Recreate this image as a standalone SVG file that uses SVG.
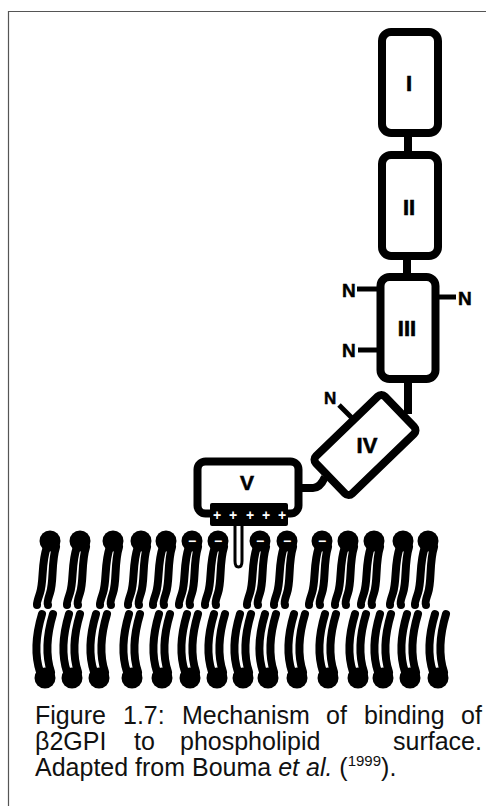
<svg xmlns="http://www.w3.org/2000/svg" xmlns:xlink="http://www.w3.org/1999/xlink" width="486" height="806" viewBox="0 0 486 806">
  <style>
    .dom { fill: #fff; stroke: #000; stroke-width: 8; }
    .lbl { font-family: "Liberation Sans", Arial, sans-serif; font-weight: bold; font-size: 22px; fill: #000; stroke: #000; stroke-width: 0.6; text-anchor: middle; }
    .nlbl { font-family: "Liberation Sans", Arial, sans-serif; font-weight: bold; font-size: 19px; fill: #000; stroke: #000; stroke-width: 0.5; }
    .link { fill: none; stroke: #000; stroke-width: 8; }
    .stub { fill: none; stroke: #000; stroke-width: 5; }
    .tail { fill: none; stroke: #000; stroke-width: 8; stroke-linecap: round; }
    .chg { font-family: "Liberation Sans", Arial, sans-serif; font-weight: bold; font-size: 14px; fill: #fff; text-anchor: middle; }
    .cap { font-family: "Liberation Sans", Arial, sans-serif; font-size: 25px; fill: #111; }
  </style>
  <defs>
    <!-- outer leaflet lipid: head up, two tails hanging down -->
    <g id="lipTop">
      <path class="tail" d="M-3,6 C-9,22 -6,40 -10,52 S-13,62 -13,64"/>
      <path class="tail" d="M6,6 C1,22 4,40 0,52 S-2,62 -2,64"/>
      <circle r="10.5" fill="#000"/>
    </g>
    <!-- inner leaflet lipid: head down, two tails rising -->
    <g id="lipBot">
      <path class="tail" d="M-5,-6 C-11,-24 -9,-44 -3,-64"/>
      <path class="tail" d="M6,-6 C0,-24 2,-44 8,-64"/>
      <circle r="10.5" fill="#000"/>
    </g>
  </defs>

  <rect width="486" height="806" fill="#fff"/>

  <!-- page frame -->
  <path d="M8.5,806 V11.5 H486" fill="none" stroke="#555" stroke-width="1.2"/>

  <!-- lipid bilayer -->
  <g id="membrane">
    <g id="outer-leaflet">
      <use xlink:href="#lipTop" x="50" y="541"/>
      <use xlink:href="#lipTop" x="80" y="541"/>
      <use xlink:href="#lipTop" x="113" y="541"/>
      <use xlink:href="#lipTop" x="141" y="541"/>
      <use xlink:href="#lipTop" x="166" y="541"/>
      <use xlink:href="#lipTop" x="192" y="541"/>
      <use xlink:href="#lipTop" x="218" y="541"/>
      <use xlink:href="#lipTop" x="260" y="541"/>
      <use xlink:href="#lipTop" x="287" y="541"/>
      <use xlink:href="#lipTop" x="322" y="541"/>
      <use xlink:href="#lipTop" x="348" y="541"/>
      <use xlink:href="#lipTop" x="374" y="541"/>
      <use xlink:href="#lipTop" x="403" y="541"/>
      <use xlink:href="#lipTop" x="428" y="541"/>
    </g>
    <g id="inner-leaflet">
      <use xlink:href="#lipBot" x="45" y="678"/>
      <use xlink:href="#lipBot" x="72" y="678"/>
      <use xlink:href="#lipBot" x="99" y="678"/>
      <use xlink:href="#lipBot" x="132" y="678"/>
      <use xlink:href="#lipBot" x="162" y="678"/>
      <use xlink:href="#lipBot" x="190" y="678"/>
      <use xlink:href="#lipBot" x="217" y="678"/>
      <use xlink:href="#lipBot" x="243" y="678"/>
      <use xlink:href="#lipBot" x="268" y="678"/>
      <use xlink:href="#lipBot" x="297" y="678"/>
      <use xlink:href="#lipBot" x="328" y="678"/>
      <use xlink:href="#lipBot" x="358" y="678"/>
      <use xlink:href="#lipBot" x="383" y="678"/>
      <use xlink:href="#lipBot" x="410" y="678"/>
      <use xlink:href="#lipBot" x="438" y="678"/>
    </g>
    <!-- anionic head groups -->
    <g id="neg-charges">
      <text class="chg" x="192" y="545.5">−</text>
      <text class="chg" x="218" y="545.5">−</text>
      <text class="chg" x="260" y="545.5">−</text>
      <text class="chg" x="287" y="545.5">−</text>
      <text class="chg" x="322" y="545.5">−</text>
    </g>
  </g>

  <!-- linkers between domains -->
  <g id="connectors">
    <path class="link" d="M408,136 V152" stroke-width="9"/>
    <path class="link" d="M407,259 V274"/>
    <path class="link" d="M408,382 V414"/>
    <path class="link" d="M302,488 H313 Q320,488 325,477"/>
  </g>

  <g id="domain-I">
    <rect class="dom" x="382" y="32" width="56" height="101" rx="9"/>
    <text class="lbl" x="409" y="91">I</text>
  </g>

  <g id="domain-II">
    <rect class="dom" x="382" y="155" width="56" height="101" rx="9"/>
    <text class="lbl" x="409" y="215">II</text>
  </g>

  <g id="domain-III">
    <rect class="dom" x="380.5" y="277" width="55" height="102" rx="9"/>
    <text class="lbl" x="407" y="336">III</text>
    <path class="stub" d="M357,289 H379"/>
    <path class="stub" d="M358,350 H379"/>
    <path class="stub" d="M436,297 H456"/>
    <text class="nlbl" x="342" y="297">N</text>
    <text class="nlbl" x="342" y="357">N</text>
    <text class="nlbl" x="458" y="305">N</text>
  </g>

  <g id="domain-IV">
    <rect class="dom" x="-48" y="-26" width="96" height="52" rx="5" transform="translate(365,445) rotate(-44)"/>
    <text class="lbl" x="367" y="453">IV</text>
    <path class="stub" d="M339,405 L352,418"/>
    <text class="nlbl" x="324" y="404" style="font-size:17px">N</text>
  </g>

  <g id="domain-V">
    <!-- hydrophobic probe inserted into the bilayer -->
    <path d="M235,520 V561 Q235,567 238.5,567 Q242,567 242,561 V520" fill="#fff" stroke="#000" stroke-width="3"/>
    <rect class="dom" x="197.5" y="461.5" width="101" height="52" rx="8" stroke-width="9"/>
    <text class="lbl" x="247" y="490" style="font-size:21px">V</text>
    <!-- lysine-rich cationic patch -->
    <rect x="210" y="503" width="78" height="23" rx="2" fill="#000"/>
    <text class="chg" x="217" y="520">+</text>
    <text class="chg" x="233" y="520">+</text>
    <text class="chg" x="250" y="520">+</text>
    <text class="chg" x="266" y="520">+</text>
    <text class="chg" x="282" y="520">+</text>
  </g>

  <!-- caption, justified word by word -->
  <g id="caption" class="cap">
    <text x="35" y="724">Figure</text>
    <text x="123" y="724">1.7:</text>
    <text x="182" y="724">Mechanism</text>
    <text x="326" y="724">of</text>
    <text x="364" y="724">binding</text>
    <text x="461" y="724">of</text>
    <text x="35" y="750">β2GPI</text>
    <text x="134" y="750">to</text>
    <text x="180" y="750">phospholipid</text>
    <text x="393" y="750">surface.</text>
    <text x="35" y="776">Adapted from Bouma <tspan font-style="italic">et al.</tspan> (<tspan font-size="15" dy="-10">1999</tspan><tspan dy="10">).</tspan></text>
  </g>
</svg>
